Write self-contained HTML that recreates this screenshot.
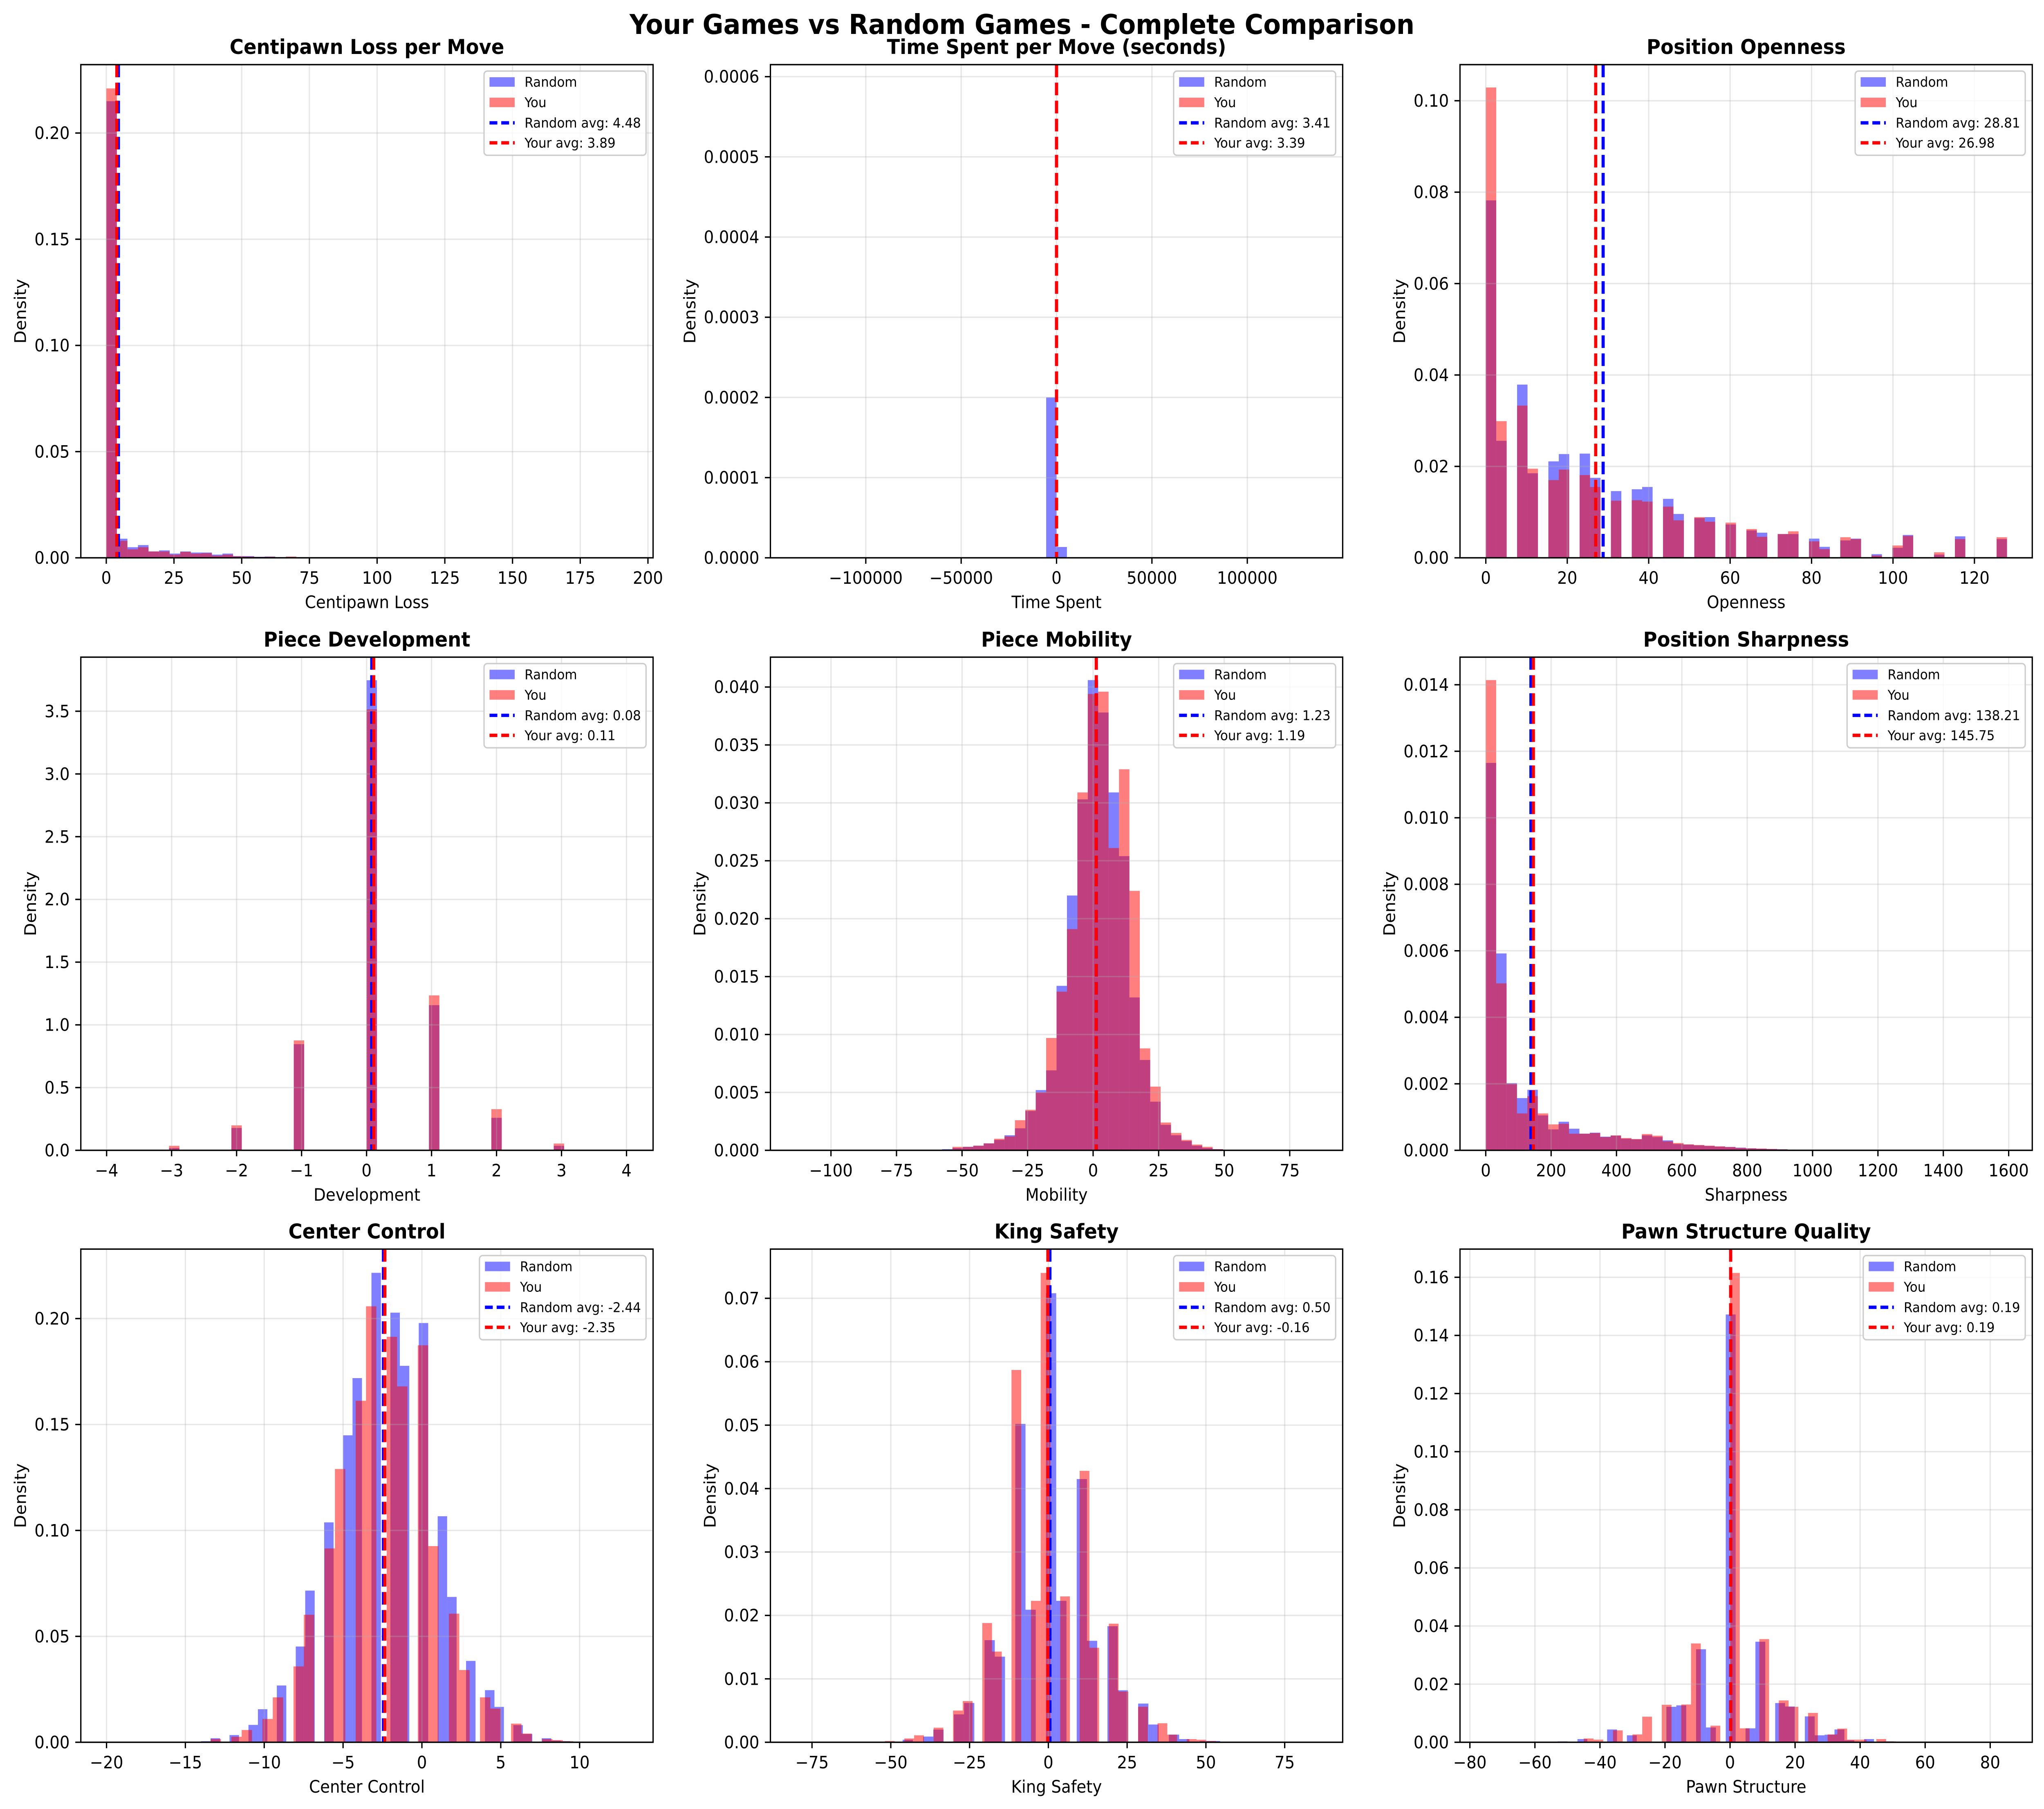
<!DOCTYPE html>
<html>
<head>
<meta charset="utf-8">
<style>
html,body{margin:0;padding:0;background:#fff;overflow:hidden;width:100%;height:100%;}
svg{display:block;position:fixed;left:0;top:0;width:100vw;height:100vh;}
text{font-family:"DejaVu Sans","Liberation Sans",sans-serif;}
</style>
</head>
<body>
<svg id="fig" xmlns="http://www.w3.org/2000/svg" viewBox="0 0 1568 1293" preserveAspectRatio="none">
<rect x="0" y="0" width="1568" height="1293" fill="#fff"/>
<text x="784" y="24.3" text-anchor="middle" font-size="19.5" font-weight="bold">Your Games vs Random Games - Complete Comparison</text>
</svg>
<script>
// ---- Chart 1: Centipawn Loss ----
const cplRandom = [0.215,0.009,0.005,0.006,0.003,0.0035,0.002,0.003,0.0025,0.0025,0.0015,0.002,0.0008,0.0008,0.0005,0.0006,0.0003,0.0004,0.0002];
const cplYou = [0.221,0.008,0.004,0.005,0.003,0.003,0.0015,0.0028,0.002,0.0022,0.001,0.0015,0.0007,0.0006,0.0004,0.0005,0.0002,0.0006,0.0002];
const cplBinStart = [0, 0];
const cplBinWidth = [3.9, 3.9];
const cplAvg = [4.48, 3.89];
const cplXTicks = [0,25,50,75,100,125,150,175,200];
const cplYTicks = [0,0.05,0.10,0.15,0.20];

// ---- Chart 2: Time Spent ----
const timeRandom = [0,0,0,0,0,0,0,0,0,0,0,0,0,0,0,0,0,0,0,0,0,0,0,0,0.0002,0.0000135];
const timeYou = [];
const timeBinStart = [-136000, -136000];
const timeBinWidth = [5440, 5440];
const timeAvg = [3.41, 3.39];
const timeXTicks = [-100000,-50000,0,50000,100000];
const timeYTicks = [0,0.0001,0.0002,0.0003,0.0004,0.0005,0.0006];

// ---- Chart 3: Openness ----
const openRandom = [0.0782,0.0256,0,0.0379,0.0185,0,0.0211,0.0227,0,0.0228,0.0175,0,0.0146,0,0.0150,0.0155,0,0.0129,0.0096,0,0.0087,0.0089,0,0.0073,0,0.0060,0.0055,0,0.0052,0.0052,0,0.0042,0.0024,0,0.0038,0.0042,0,0.0008,0,0.0022,0.0050,0,0,0.0007,0,0.0047,0,0,0,0.0041];
const openYou = [0.1029,0.0299,0,0.0333,0.0195,0,0.0170,0.0193,0,0.0181,0.0155,0,0.0125,0,0.0126,0.0123,0,0.0112,0.0082,0,0.0089,0.0079,0,0.0077,0,0.0063,0.0046,0,0.0052,0.0058,0,0.0036,0.0019,0,0.0045,0.0041,0,0.0005,0,0.0027,0.0048,0,0,0.0012,0,0.0041,0,0,0,0.0045];
const openBinStart = [0, 0];
const openBinWidth = [2.56, 2.56];
const openAvg = [28.81, 26.98];
const openXTicks = [0,20,40,60,80,100,120];
const openYTicks = [0,0.02,0.04,0.06,0.08,0.10];

// ---- Chart 4: Development ----
const devRandom = [0,0,0,0,0,0,0.018,0,0,0,0,0,0.178,0,0,0,0,0,0.846,0,0,0,0,0,0,3.747,0,0,0,0,0,1.157,0,0,0,0,0,0.259,0,0,0,0,0,0.036];
const devYou = [0,0,0,0,0,0,0.036,0,0,0,0,0,0.199,0,0,0,0,0,0.876,0,0,0,0,0,0,3.515,0,0,0,0,0,1.235,0,0,0,0,0,0.328,0,0,0,0,0,0.054];
const devBinStart = [-4, -4];
const devBinWidth = [0.16, 0.16];
const devAvg = [0.08, 0.11];
const devXTicks = [-4,-3,-2,-1,0,1,2,3,4];
const devYTicks = [0,0.5,1.0,1.5,2.0,2.5,3.0,3.5];

// ---- Chart 5: Mobility ----
const mobRandom = [0,0,0,0,0,0,0,0,0,0,0,0,0,0,0.0001,0.0002,0.0003,0.0004,0.0006,0.0009,0.0013,0.0019,0.0034,0.0052,0.0069,0.0142,0.0220,0.0303,0.0406,0.0378,0.0309,0.0254,0.0132,0.0078,0.0042,0.0022,0.0013,0.0008,0.0004,0.0002,0.0001];
const mobYou = [0,0,0,0,0,0,0,0,0,0,0,0,0,0,0,0.0003,0.0003,0.0004,0.0006,0.0010,0.0012,0.0026,0.0035,0.0050,0.0097,0.0137,0.0191,0.0309,0.0394,0.0396,0.0261,0.0329,0.0224,0.0088,0.0055,0.0024,0.0015,0.0009,0.0005,0.0003,0.0001];
const mobBinStart = [-113.2, -113.2];
const mobBinWidth = [3.97, 3.97];
const mobAvg = [1.23, 1.19];
const mobXTicks = [-100,-75,-50,-25,0,25,50,75];
const mobYTicks = [0,0.005,0.010,0.015,0.020,0.025,0.030,0.035,0.040];

// ---- Chart 6: Sharpness ----
const sharpRandom = [0.01165,0.00592,0.00202,0.00157,0.00182,0.00105,0.00063,0.00086,0.00065,0.0005,0.00053,0.00041,0.00044,0.00035,0.00033,0.00045,0.0004,0.0003,0.00019,0.00017,0.00015,0.00013,0.00011,0.0001,0.00008,0.00006,0.00005,0.00004,0.00003,0.00002,0.00001,0.00001,0.00001,0.00001,0.00001];
const sharpYou = [0.01414,0.00502,0.0020,0.00111,0.00163,0.00111,0.00078,0.0008,0.0005,0.0005,0.00052,0.0004,0.00045,0.00037,0.00034,0.00049,0.00044,0.00027,0.00022,0.00018,0.00016,0.00014,0.00012,0.0001,0.00007,0.00006,0.00005,0.00004,0.00003,0.00002,0.00001,0.00001,0.00001,0.00001,0.00001];
const sharpBinStart = [0, 0];
const sharpBinWidth = [31.84, 31.84];
const sharpAvg = [138.21, 145.75];
const sharpXTicks = [0,200,400,600,800,1000,1200,1400,1600];
const sharpYTicks = [0,0.002,0.004,0.006,0.008,0.010,0.012,0.014];

// ---- Chart 7: Center Control ----
const ccRandom = [0.0005,0.0019,0,0.0034,0,0.0082,0.0156,0,0.0268,0,0.0452,0.0716,0,0.1038,0,0.1449,0.1719,0,0.2216,0,0.2028,0.1777,0,0.1979,0,0.1067,0.0686,0,0.0384,0,0.0246,0.0167,0,0.0081,0.0039,0,0.0019,0.0008,0.0005];
const ccYou = [0.0015,0,0.0026,0.0058,0,0.011,0.0212,0,0.0358,0.0602,0,0.0915,0.129,0,0.1612,0.2058,0,0.1914,0.168,0,0.1874,0.0926,0,0.0607,0.0341,0,0.0212,0.0159,0,0.0088,0.0041,0,0.0015,0.001,0.0005];
const ccBinStart = [-14, -13.4];
const ccBinWidth = [0.6, 0.657];
const ccAvg = [-2.44, -2.35];
const ccXTicks = [-20,-15,-10,-5,0,5,10];
const ccYTicks = [0,0.05,0.10,0.15,0.20];

// ---- Chart 8: King Safety ----
const kingRandom = [0,0.0004,0,0.0009,0.002,0,0.0044,0.0062,0,0.0161,0.0135,0,0.0502,0.0209,0,0.0708,0.0223,0,0.0415,0.016,0,0.0183,0.0082,0,0.0061,0.0028,0,0.0012,0.0005,0,0.0002,0.0002];
const kingYou = [0.0002,0,0.0006,0.0011,0,0.0023,0,0.005,0.0065,0,0.0188,0.0143,0,0.0587,0,0.0223,0.074,0,0.023,0,0.0428,0.0149,0,0.0187,0.008,0,0.0056,0,0.003,0.0012,0,0.0005,0.0004,0.0002];
const kingBinStart = [-49.5, -51.87];
const kingBinWidth = [3.25, 3.09];
const kingAvg = [0.50, -0.16];
const kingXTicks = [-75,-50,-25,0,25,50,75];
const kingYTicks = [0,0.01,0.02,0.03,0.04,0.05,0.06,0.07];

// ---- Chart 9: Pawn Structure ----
const pawnRandom = [0.0003,0,0.0011,0,0,0.0044,0,0.0024,0,0,0,0.0122,0.0127,0,0.032,0.0051,0,0.1472,0,0.0048,0.0346,0,0.0135,0.0123,0,0.0089,0.0024,0.0026,0.0044,0.0007,0,0.0011,0,0.0003];
const pawnYou = [0.0013,0.0009,0,0.0041,0,0.0027,0.0088,0,0.0129,0,0.013,0.034,0,0.0057,0,0.1615,0.0048,0,0.0355,0,0.0144,0.0122,0,0.0101,0,0.0027,0.0047,0.0009,0.0009,0,0.0011,0.0003];
const pawnBinStart = [-53, -45];
const pawnBinWidth = [3.04, 3.0];
const pawnAvg = [0.19, 0.19];
const pawnXTicks = [-80,-60,-40,-20,0,20,40,60,80];
const pawnYTicks = [0,0.02,0.04,0.06,0.08,0.10,0.12,0.14,0.16];

const NS = 'http://www.w3.org/2000/svg';
const svg = document.getElementById('fig');
const COLX = [62, 591, 1120], ROWY = [46.2, 469.7, 892.8], FW = 439, FH = 352.5;

function mk(parent, tag, attrs, txt) {
  const e = document.createElementNS(NS, tag);
  for (const k in attrs) e.setAttribute(k, attrs[k]);
  if (txt !== undefined) e.textContent = txt;
  parent.appendChild(e);
  return e;
}
function fmt(v, dec) {
  const s = dec > 0 ? v.toFixed(dec) : String(v);
  return s.replace('-', '\u2212');
}

function chart(idx, key, title, xlabel, xmin, xmax, ymax, ydec, xTicks, yTicks, rnd, you, starts, widths, avgs) {
  const L = COLX[idx % 3], T = ROWY[Math.floor(idx / 3)], R = L + FW, B = T + FH;
  const sx = v => L + (v - xmin) / (xmax - xmin) * FW;
  const sy = v => B - v / ymax * FH;
  const g = mk(svg, 'g', {});
  
  
  const clipId = 'clip' + idx;
  const cp = mk(g, 'clipPath', {id: clipId});
  mk(cp, 'rect', {x: L, y: T, width: FW, height: FH});

  const series = [[rnd, '#0000ff', 'random'], [you, '#ff0000', 'you']];
  series.forEach((s, si) => {
    const sg = mk(g, 'g', {'clip-path': 'url(#' + clipId + ')'});
    
    
    s[0].forEach((v, i) => {
      if (!v) return;
      const x0 = sx(starts[si] + i * widths[si]), x1 = sx(starts[si] + (i + 1) * widths[si]);
      const r = mk(sg, 'rect', {x: x0, y: sy(v), width: Math.max(0.1, x1 - x0), height: B - sy(v), fill: s[1], 'fill-opacity': 0.5});
      
      
    });
  });

  const grid = mk(g, 'g', {stroke: '#b0b0b0', 'stroke-opacity': 0.3, 'stroke-width': 1});
  
  
  xTicks.forEach(v => mk(grid, 'line', {x1: sx(v), x2: sx(v), y1: T, y2: B}));
  yTicks.forEach(v => mk(grid, 'line', {x1: L, x2: R, y1: sy(v), y2: sy(v)}));

  const cols = ['#0000ff', '#ff0000'];
  avgs.forEach((a, i) => {
    const ln = mk(g, 'line', {x1: sx(a), x2: sx(a), y1: T, y2: B, stroke: cols[i], 'stroke-width': 2.4, 'stroke-dasharray': '9,3.9'});
    
    
  });

  const fr = mk(g, 'rect', {x: L, y: T, width: FW, height: FH, fill: 'none', stroke: '#000', 'stroke-width': 1});
  
  

  const xt = mk(g, 'g', {});
  
  
  xTicks.forEach(v => {
    mk(xt, 'line', {x1: sx(v), x2: sx(v), y1: B, y2: B + 4.26, stroke: '#000', 'stroke-width': 1});
    const t = mk(xt, 'text', {x: sx(v), y: B + 18.6, 'text-anchor': 'middle', 'font-size': 12.17}, fmt(v, 0));
    
    
  });
  const yt = mk(g, 'g', {});
  
  
  let maxW = 0;
  yTicks.forEach(v => {
    mk(yt, 'line', {x1: L - 4.26, x2: L, y1: sy(v), y2: sy(v), stroke: '#000', 'stroke-width': 1});
    const t = mk(yt, 'text', {x: L - 8.5, y: sy(v) + 4.3, 'text-anchor': 'end', 'font-size': 12.17}, fmt(v, ydec));
    
    
    maxW = Math.max(maxW, t.getComputedTextLength());
  });

  const xl = mk(g, 'text', {x: L + FW / 2, y: B + 36, 'text-anchor': 'middle', 'font-size': 12.17}, xlabel);
  
  
  const yx = L - 15 - maxW;
  const yl = mk(g, 'text', {x: yx, y: T + FH / 2, 'text-anchor': 'middle', 'font-size': 12.17, transform: 'rotate(-90 ' + yx + ' ' + (T + FH / 2) + ')'}, 'Density');
  
  
  const tt = mk(g, 'text', {x: L + FW / 2, y: T - 7.6, 'text-anchor': 'middle', 'font-size': 14.6, 'font-weight': 'bold'}, title);
  
  

  const lg = mk(g, 'g', {});
  
  
  const box = mk(lg, 'rect', {y: T + 4.6, height: 60.2, rx: 2.5, fill: '#fff', 'fill-opacity': 0.8, stroke: '#cccccc', 'stroke-width': 1});
  const labels = ['Random', 'You', 'Random avg: ' + avgs[0].toFixed(2), 'Your avg: ' + avgs[1].toFixed(2)];
  const ys = [12.4, 27, 41.6, 55.9];
  const texts = [];
  labels.forEach((lab, i) => {
    const t = mk(lg, 'text', {x: 0, y: T + ys[i] + 3.4, 'font-size': 9.73}, lab);
    
    
    texts.push(t);
  });
  let tw = 0;
  texts.forEach(t => tw = Math.max(tw, t.getComputedTextLength()));
  const bw = tw + 35;
  const bx = R - 5.4 - bw;
  box.setAttribute('x', bx);
  box.setAttribute('width', bw);
  texts.forEach(t => t.setAttribute('x', bx + 31.1));
  const px = bx + 4.2;
  const p1 = mk(lg, 'rect', {x: px, y: T + ys[0] - 3.4, width: 19.3, height: 6.8, fill: '#0000ff', 'fill-opacity': 0.5});
  
  
  const p2 = mk(lg, 'rect', {x: px, y: T + ys[1] - 3.4, width: 19.3, height: 6.8, fill: '#ff0000', 'fill-opacity': 0.5});
  
  
  const l1 = mk(lg, 'line', {x1: px, x2: px + 19.3, y1: T + ys[2], y2: T + ys[2], stroke: '#0000ff', 'stroke-width': 2.4, 'stroke-dasharray': '6,3'});
  
  
  const l2 = mk(lg, 'line', {x1: px, x2: px + 19.3, y1: T + ys[3], y2: T + ys[3], stroke: '#ff0000', 'stroke-width': 2.4, 'stroke-dasharray': '6,3'});
  
  
}

chart(0, 'centipawn', 'Centipawn Loss per Move', 'Centipawn Loss', -9.4, 201.9, 0.2322, 2, cplXTicks, cplYTicks, cplRandom, cplYou, cplBinStart, cplBinWidth, cplAvg);
chart(1, 'time-spent', 'Time Spent per Move (seconds)', 'Time Spent', -150000, 150000, 0.000615, 4, timeXTicks, timeYTicks, timeRandom, timeYou, timeBinStart, timeBinWidth, timeAvg);
chart(2, 'openness', 'Position Openness', 'Openness', -6.34, 134.2, 0.1079, 2, openXTicks, openYTicks, openRandom, openYou, openBinStart, openBinWidth, openAvg);
chart(3, 'development', 'Piece Development', 'Development', -4.397, 4.409, 3.931, 1, devXTicks, devYTicks, devRandom, devYou, devBinStart, devBinWidth, devAvg);
chart(4, 'mobility', 'Piece Mobility', 'Mobility', -123.1, 95.2, 0.04258, 3, mobXTicks, mobYTicks, mobRandom, mobYou, mobBinStart, mobBinWidth, mobAvg);
chart(5, 'sharpness', 'Position Sharpness', 'Sharpness', -78.8, 1672.2, 0.01483, 3, sharpXTicks, sharpYTicks, sharpRandom, sharpYou, sharpBinStart, sharpBinWidth, sharpAvg);
chart(6, 'center-control', 'Center Control', 'Center Control', -21.63, 14.66, 0.2328, 2, ccXTicks, ccYTicks, ccRandom, ccYou, ccBinStart, ccBinWidth, ccAvg);
chart(7, 'king-safety', 'King Safety', 'King Safety', -88.2, 93.4, 0.07776, 2, kingXTicks, kingYTicks, kingRandom, kingYou, kingBinStart, kingBinWidth, kingAvg);
chart(8, 'pawn-structure', 'Pawn Structure Quality', 'Pawn Structure', -83.04, 92.94, 0.1697, 2, pawnXTicks, pawnYTicks, pawnRandom, pawnYou, pawnBinStart, pawnBinWidth, pawnAvg);
</script>
</body>
</html>
